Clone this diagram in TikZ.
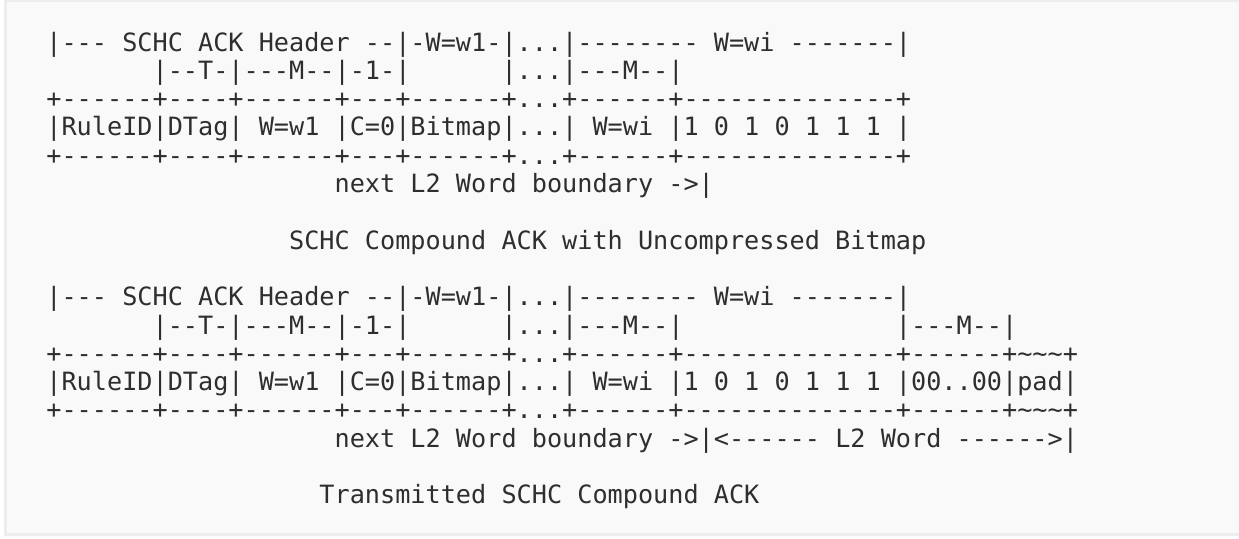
\documentclass[tikz,border=0pt]{standalone}
\usepackage{fontspec}
\setmonofont{DejaVu Sans Mono}
\definecolor{boxfill}{HTML}{F9F9F9}
\definecolor{boxline}{HTML}{EDEDED}
\definecolor{asciitext}{HTML}{2E2E2E}
\tikzset{
  art/.style={
    anchor=base west,
    inner sep=0pt,
    outer sep=0pt,
    text=asciitext,
    font={\ttfamily\fontsize{12.6pt}{14pt}\selectfont}},
  artbox/.style={fill=boxfill, draw=boxline, line width=1.25pt},
}
\frenchspacing
\begin{document}
\begin{tikzpicture}[x=7.585pt, y=-14.15pt]
    % page and grey box
    \useasboundingbox (-23.2pt,25.5pt) rectangle (596.3pt,-243.5pt);
    \fill[white] (-23.2pt,25.5pt) rectangle (596.3pt,-243.5pt);
    \path[artbox] (-20.45pt,25.2pt) rectangle (612pt,-241.75pt);

    % compound ACK, uncompressed bitmap
    \node[art] (hdr1) at (0,0) {|--- SCHC ACK Header --|-W=w1-|...|-------- W=wi -------|};
    \node[art] (sub1a) at (7,1) {|--T-|---M--|-1-|};
    \node[art] (sub1b) at (30,1) {|...|---M--|};
    \node[art] (top1) at (0,2) {+------+----+------+---+------+...+------+--------------+};
    \node[art] (fld1) at (0,3) {|RuleID|DTag| W=w1 |C=0|Bitmap|...| W=wi |1 0 1 0 1 1 1 |};
    \node[art] (bot1) at (0,4) {+------+----+------+---+------+...+------+--------------+};
    \node[art] (nxt1) at (19,5) {next L2 Word boundary ->|};
    \node[art] (cap1) at (16,7) {SCHC Compound ACK with Uncompressed Bitmap};

    % transmitted compound ACK
    \node[art] (hdr2) at (0,9) {|--- SCHC ACK Header --|-W=w1-|...|-------- W=wi -------|};
    \node[art] (sub2a) at (7,10) {|--T-|---M--|-1-|};
    \node[art] (sub2b) at (30,10) {|...|---M--|};
    \node[art] (sub2c) at (56,10) {|---M--|};
    \node[art] (top2) at (0,11) {+------+----+------+---+------+...+------+--------------+------+\textasciitilde\textasciitilde\textasciitilde+};
    \node[art] (fld2) at (0,12) {|RuleID|DTag| W=w1 |C=0|Bitmap|...| W=wi |1 0 1 0 1 1 1 |00..00|pad|};
    \node[art] (bot2) at (0,13) {+------+----+------+---+------+...+------+--------------+------+\textasciitilde\textasciitilde\textasciitilde+};
    \node[art] (nxt2) at (19,14) {next L2 Word boundary ->|<------ L2 Word ------>|};
    \node[art] (cap2) at (18,16) {Transmitted SCHC Compound ACK};

\end{tikzpicture}
\end{document}
